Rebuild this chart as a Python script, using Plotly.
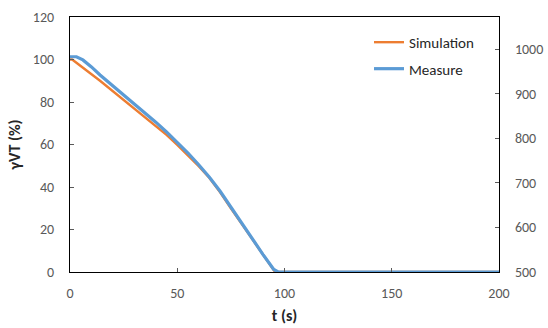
import plotly.graph_objects as go

sim_t = [0, 1, 14, 30, 45, 50, 55, 60, 65, 70, 75, 80, 85, 90, 95.6, 200]
sim_v = [100, 100, 90.0, 77.0, 64.5, 59.8, 55.0, 49.8, 44.2, 37.5, 30.0, 22.6, 15.2, 8.0, 0, 0]

meas_t = [0, 3, 6, 10, 14, 20, 30, 40, 45, 50, 55, 60, 65, 70, 75, 80, 85, 90, 95, 97, 200]
meas_v = [101.3, 101.3, 99.8, 96.5, 92.7, 87.6, 79.2, 70.5, 65.9, 61.0, 56.0, 50.5, 44.6, 38.0, 30.5, 23.0, 15.5, 8.2, 1.2, 0, 0]

y2_dummy_x = [0]
y2_dummy_y = [500]

FONT = "Carlito, Calibri, Lato, sans-serif"
TICKC = "#595959"

fig = go.Figure()
fig.add_trace(go.Scatter(x=sim_t, y=sim_v, mode="lines", name="Simulation",
                         legendgroup="a",
                         line=dict(color="#ED7D31", width=2.4)))
fig.add_trace(go.Scatter(x=meas_t, y=meas_v, mode="lines", name="Measure",
                         legendgroup="b",
                         line=dict(color="#5B9BD5", width=3.2)))
fig.add_trace(go.Scatter(x=y2_dummy_x, y=y2_dummy_y, yaxis="y2", mode="lines",
                         opacity=0, showlegend=False, hoverinfo="skip"))

fig.update_layout(
    width=548, height=328,
    margin=dict(l=70, r=49, t=17, b=56),
    paper_bgcolor="white", plot_bgcolor="white",
    font=dict(family=FONT, size=14, color=TICKC),
    xaxis=dict(range=[0, 200], tickvals=[0, 50, 100, 150, 200],
               automargin=False,
               showgrid=False, zeroline=False,
               showline=True, linecolor="black", linewidth=1.2, mirror=True,
               ticks="inside", ticklen=4, tickcolor="#595959",
               ticklabelstandoff=8,
               title=dict(text="<b>t (s)</b>", font=dict(size=16, color="#262626"), standoff=8)),
    yaxis=dict(range=[0, 120], tickvals=[0, 20, 40, 60, 80, 100, 120],
               automargin=False,
               showgrid=False, zeroline=False,
               showline=True, linecolor="black", linewidth=1.2, mirror=True,
               ticks="inside", ticklen=4, tickcolor="#595959",
               ticklabelstandoff=12,
               title=dict(text="<b>γVT (%)</b>", font=dict(size=16, color="#262626"), standoff=8)),
    yaxis2=dict(range=[500, 1073], tickvals=[500, 600, 700, 800, 900, 1000],
                automargin=False,
                overlaying="y", side="right", showgrid=False, zeroline=False,
                showline=True, linecolor="black", linewidth=1.2,
                ticks="inside", ticklen=4, tickcolor="#595959",
                ticklabelstandoff=12),
    legend=dict(x=0.697, y=0.965, xanchor="left", yanchor="top",
                bgcolor="rgba(0,0,0,0)", font=dict(size=15, color="#262626"),
                traceorder="grouped", tracegroupgap=4, itemwidth=30),
    showlegend=True,
)

fig.write_html("out.html")
